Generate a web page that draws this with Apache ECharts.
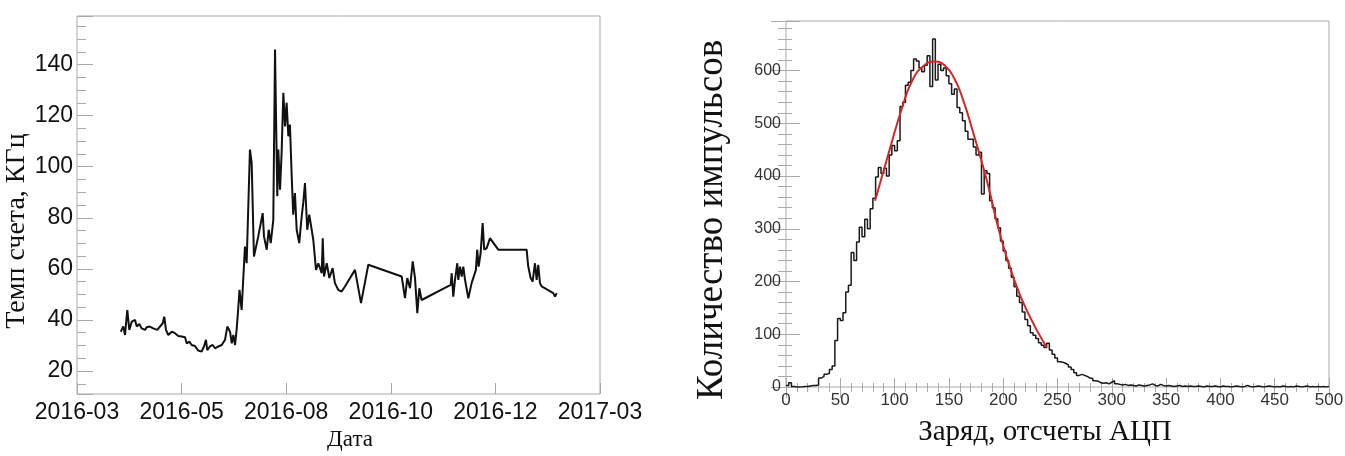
<!DOCTYPE html>
<html>
<head>
<meta charset="utf-8">
<script src="https://cdn.jsdelivr.net/npm/echarts@6/dist/echarts.min.js"></script>
<style>html,body{margin:0;background:#fff;}</style>
</head>
<body>
<div id="main" style="width:1345px;height:456px;"></div>
<script type="text/javascript">
    // левая панель: темп счета по дням (день 0 = 2016-03-10)
    var startDate = Date.UTC(2016, 2, 10);
    var rateDays = [30.5, 32.3, 33.5, 35.1, 36.5, 38.2, 40.5, 41.7, 43.5, 45.1, 47.5, 48.6, 50.9, 53.2, 54.4, 56, 57.9, 59.8, 60.9, 62.1,
        63.7, 66.1, 68.4, 70.7, 73.1, 75.4, 76.6, 78.4, 80, 82.3, 84.6, 87, 88.6, 90, 90.9, 92.8, 94.7, 96.3, 98.6, 101,
        103.3, 104.9, 106.8, 108, 109.1, 110.3, 111.4, 112.6, 113.4, 114.9, 117.2, 118.4, 120.7, 121.9, 123.5, 126.5, 129.6, 130.5, 132.4, 133.8,
        135.2, 137, 138.2, 138.9, 139.8, 140.5, 141.7, 142.8, 144, 145.2, 146.3, 147.5, 148.6, 149.8, 150.9, 152.1, 153.3, 155.1, 156.8, 157.9,
        159.1, 160.7, 162.1, 164.9, 166.8, 168.4, 170.8, 171.5, 172.4, 174.3, 176.1, 178.4, 180, 182.3, 184.7, 187, 194, 198.2, 203.3, 226.6,
        228.9, 230.5, 232.4, 234.3, 235.9, 237.5, 238.9, 240.5, 260.8, 261.5, 262.6, 263.8, 265.4, 266.1, 267.3, 268.5, 269.6, 270.8, 271.9, 273.1,
        275.4, 278.4, 279.3, 280.3, 281.7, 283.1, 284.2, 285.9, 288.2, 294, 313.8, 314.9, 316.6, 318, 319.6, 320.8, 321.9, 323.1, 324.3, 332.4,
        333.6, 334.8];
    var rateValues = [35.4, 37.4, 34.1, 43.9, 36.1, 39.3, 40, 37.4, 38.4, 36.7, 36.1, 37.1, 37.4, 36.7, 37.4, 36.1, 37.4, 38.7, 41.3, 36.1,
        34.1, 35.4, 34.8, 33.7, 33.5, 33.2, 30.8, 31.5, 30.2, 29.8, 28, 27.6, 29.6, 32.2, 28.2, 29.6, 30.2, 28.9, 29.6, 30.2,
        32.2, 37.4, 35.4, 30.8, 34.1, 30.2, 36.1, 45, 51.8, 43.9, 68.7, 62.2, 106.7, 101.5, 64.8, 72.7, 81.8, 72.7, 67.5, 75.3,
        70.1, 79.2, 145.9, 119.7, 88.4, 106.7, 91, 105.4, 128.9, 115.8, 125, 111.9, 116.5, 96.9, 81.2, 89.7, 75.3, 70.1, 80.5, 85.8,
        93.6, 75.3, 81.2, 71.4, 59.6, 62.2, 58.3, 72, 57, 62.2, 56.4, 60.3, 54.4, 51.8, 51.1, 53.1, 59.6, 46.6, 61.6, 57,
        48.5, 56.4, 52.4, 62.9, 56.4, 42.6, 52.4, 47.8, 53.7, 58.3, 49.1, 55.7, 62.2, 55.7, 60.9, 57, 60.9, 55.7, 56.4, 48.5,
        54.4, 59.6, 67.5, 60.9, 66.2, 77.9, 67.5, 68.1, 72, 67.5, 67.5, 61, 56.4, 55, 62.2, 55.7, 61.6, 54.4, 53.1, 50.5,
        49.1, 50.5];

    // правая панель: гистограмма заряда, 200 бинов по 2.5 отсчета
    var binWidth = 2.5;
    var counts = [3, 8, 1, 0, 0, 0, 1, 1, 2, 3, 3, 4,
        17, 20, 24, 26, 33, 40, 88, 130, 126, 141, 180, 193,
        255, 240, 275, 303, 285, 318, 300, 338, 358, 398, 416, 405,
        415, 400, 440, 458, 448, 467, 532, 540, 572, 578, 600, 622,
        618, 605, 598, 610, 628, 570, 660, 582, 612, 600, 605, 590,
        575, 555, 565, 530, 520, 505, 485, 470, 470, 455, 440, 445,
        366, 410, 405, 353, 340, 319, 302, 277, 258, 240, 225, 208,
        190, 172, 160, 142, 128, 116, 103, 98, 92, 84, 79, 75,
        83, 70, 62, 55, 48, 47, 45, 42, 38, 33, 27, 22,
        24, 22, 20, 17, 16, 12, 11, 8, 7, 8, 6, 9,
        12, 6, 5, 4, 5, 3, 4, 3, 2, 4, 3, 2,
        3, 4, 6, 3, 2, 5, 3, 2, 3, 2, 1, 2,
        3, 1, 2, 1, 2, 1, 1, 2, 1, 0, 2, 1,
        1, 2, 1, 0, 2, 1, 1, 0, 1, 2, 1, 0,
        1, 3, 1, 0, 1, 2, 1, 0, 1, 2, 1, 0,
        1, 0, 2, 1, 0, 1, 0, 2, 1, 0, 1, 2,
        0, 1, 0, 1, 0, 1, 0, 1];
    // красная аппроксимация, точки
    var fitCharge = [82, 96, 107, 117, 128, 137, 146, 155, 163, 172, 185, 197, 209.5, 222, 240];
    var fitCounts = [353, 454, 530, 584, 611, 617, 610, 585, 545, 485, 391, 290, 207, 144, 75];

    var sans = "'Liberation Sans', Arial, sans-serif";
    var serif = "'Liberation Serif', 'DejaVu Serif', serif";
    var frame = '#a9a9a9';

    function pad(n) { return n < 10 ? '0' + n : '' + n; }
    function dayLabel(v) {
        var d = new Date(startDate + v * 86400000);
        return d.getUTCFullYear() + '-' + pad(d.getUTCMonth() + 1);
    }

    var rateData = rateDays.map(function (d, i) { return [d, rateValues[i]]; });
    var histData = counts.map(function (c, i) { return [i * binWidth, c]; });
    histData.push([counts.length * binWidth, counts[counts.length - 1]]);
    var fitData = fitCharge.map(function (x, i) { return [x, fitCounts[i]]; });

    function title(text, x, y, size, vertical) {
        return {
            type: 'text', x: x, y: y, rotation: vertical ? Math.PI / 2 : 0,
            style: {text: text, fontFamily: serif, fontSize: size, fill: '#111', align: 'center', verticalAlign: 'middle'}
        };
    }

    var myChart = echarts.init(document.getElementById('main'));
    option = {
        animation: false,
        backgroundColor: '#fff',
        grid: [
            {left: 77, top: 16, width: 523, height: 378, show: true, borderColor: frame, borderWidth: 1, outerBoundsMode: 'none'},
            {left: 786, top: 21, width: 543, height: 366, show: true, borderColor: frame, borderWidth: 1, outerBoundsMode: 'none'}
        ],
        graphic: [
            title('Темп счета, КГц', 17, 231, 28, true),
            title('Дата', 350, 440, 23, false),
            title('Количество импульсов', 712, 220, 37, true),
            title('Заряд, отсчеты АЦП', 1045, 432, 29, false)
        ],
        xAxis: [
            {
                gridIndex: 0, type: 'value', min: 0, max: 365, interval: 73,
                axisLine: {show: false}, splitLine: {show: false},
                axisTick: {inside: true, length: 11, lineStyle: {color: frame}},
                axisLabel: {formatter: dayLabel, fontFamily: sans, fontSize: 23, color: '#111', margin: 7}
            },
            {
                gridIndex: 1, type: 'value', min: 0, max: 500, interval: 50,
                axisLine: {show: false}, splitLine: {show: false},
                axisTick: {inside: true, length: 9, lineStyle: {color: frame}},
                minorTick: {show: true, splitNumber: 5, length: 4, lineStyle: {color: frame}},
                axisLabel: {fontFamily: sans, fontSize: 17, color: '#333', margin: 5}
            },
            {
                gridIndex: 1, type: 'value', position: 'top', min: 0, max: 500, interval: 50,
                axisLine: {show: false}, splitLine: {show: false}, axisLabel: {show: false},
                axisTick: {inside: true, length: 11, lineStyle: {color: frame}},
                minorTick: {show: true, splitNumber: 5, length: 5, lineStyle: {color: frame}}
            }
        ],
        yAxis: [
            {
                gridIndex: 0, type: 'value', min: 11, max: 159, minInterval: 20, maxInterval: 20, splitNumber: 7,
                axisLine: {show: false}, splitLine: {show: false},
                axisTick: {inside: true, length: 16, lineStyle: {color: frame}},
                minorTick: {show: true, splitNumber: 4, length: 9, lineStyle: {color: frame}},
                axisLabel: {fontFamily: sans, fontSize: 23, color: '#111', margin: 4, showMinLabel: false, showMaxLabel: false}
            },
            {
                gridIndex: 1, type: 'value', min: 0, max: 694, interval: 100,
                axisLine: {show: false}, splitLine: {show: false},
                axisTick: {inside: true, length: 14, lineStyle: {color: frame}},
                minorTick: {show: true, splitNumber: 5, length: 6, lineStyle: {color: frame}},
                axisLabel: {fontFamily: sans, fontSize: 16, color: '#333', margin: 5, showMaxLabel: false}
            },
            {
                gridIndex: 1, type: 'value', position: 'right', min: 0, max: 694, interval: 100,
                axisLine: {show: false}, splitLine: {show: false}, axisLabel: {show: false},
                axisTick: {inside: true, length: 15, lineStyle: {color: frame}},
                minorTick: {show: true, splitNumber: 5, length: 8, lineStyle: {color: frame}}
            }
        ],
        series: [
            {
                type: 'line', xAxisIndex: 0, yAxisIndex: 0, data: rateData,
                showSymbol: false, lineStyle: {color: '#111', width: 2}
            },
            {
                type: 'line', xAxisIndex: 1, yAxisIndex: 1, data: histData, step: 'end',
                showSymbol: false, lineStyle: {color: '#1a1a1a', width: 1.5}
            },
            {
                type: 'line', xAxisIndex: 1, yAxisIndex: 1, data: fitData, smooth: true,
                showSymbol: false, lineStyle: {color: '#d42626', width: 2}
            }
        ]
    };
    myChart.setOption(option);
</script>
</body>
</html>
